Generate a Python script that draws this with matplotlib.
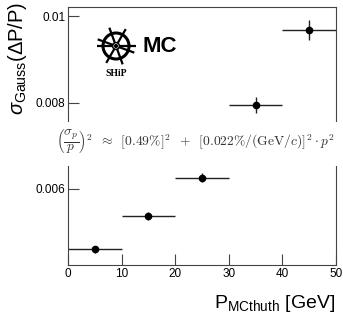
import numpy as np
import matplotlib
matplotlib.use("Agg")
import matplotlib.pyplot as plt
from matplotlib.patches import Circle, Rectangle

plt.rcParams["font.family"] = ["Liberation Sans", "DejaVu Sans"]
plt.rcParams["mathtext.fontset"] = "custom"
plt.rcParams["mathtext.rm"] = "Liberation Sans"
plt.rcParams["mathtext.it"] = "Liberation Sans:italic"
plt.rcParams["mathtext.sf"] = "Liberation Sans"

# data
p_centres = [5, 15, 25, 35, 45]
p_halfwidth = [5, 5, 5, 5, 5]
sigma_gauss = [0.00460, 0.00537, 0.00626, 0.00795, 0.00969]
sigma_err = [0.00008, 0.00009, 0.00010, 0.00019, 0.00023]
xticks = [0, 10, 20, 30, 40, 50]
yticks = [0.006, 0.008, 0.01]
ylabels = ["0.006", "0.008", "0.01"]

W, H = 343, 320
fig = plt.figure(figsize=(W / 100, H / 100), dpi=100)
ax = fig.add_axes([68 / W, 1 - 265 / H, (336 - 68) / W, (265 - 7) / H])

ax.errorbar(p_centres, sigma_gauss, xerr=p_halfwidth, yerr=sigma_err,
            fmt="o", color="black", ecolor="#222222", elinewidth=1.0,
            markersize=4.5, capsize=0)
ax.set_xlim(0, 50)
ax.set_ylim(0.004237, 0.01022)
ax.set_xticks(xticks)
ax.set_yticks(yticks)
ax.set_yticklabels(ylabels)
ax.tick_params(direction="in", length=8, width=0.8, labelsize=8.5,
               color="#444444", top=False, right=False, pad=2)
for s in ax.spines.values():
    s.set_color("#444444")
    s.set_linewidth(0.8)

# white band with the resolution formula
fig.patches.append(Rectangle((0, 1 - 166 / H), 1, 44 / H, transform=fig.transFigure,
                             facecolor="white", edgecolor="none", zorder=5))
fig.text(195 / W, 1 - 142 / H,
         r"$\left(\dfrac{\sigma_p}{p}\right)^2 \;\;\approx\;\; [0.49\%]^2 \;\;+\;\; "
         r"[0.022\%/(\mathrm{GeV}/c)]^2 \cdot p^2$",
         math_fontfamily="cm", fontsize=9.8, color="#333333",
         ha="center", va="center", zorder=6)

# axis titles
fig.text(18 / W, 1 - 2 / H, r"$\sigma_{\mathrm{Gauss}}$(ΔP/P)", rotation=90,
         fontsize=14.5, ha="center", va="top")
fig.text(335 / W, 1 - 303 / H, r"P$_{\mathrm{MCthuth}}$ [GeV]",
         fontsize=14, ha="right", va="center")

# SHiP logo and MC tag
lax = fig.add_axes([(116 - 22) / W, 1 - (46 + 22) / H, 44 / W, 44 / H])
lax.set_xlim(-22, 22)
lax.set_ylim(-22, 22)
lax.set_aspect("equal")
lax.axis("off")
lax.add_patch(Circle((0, 0), 13, fill=False, lw=2.2, color="black"))
for ang in [0, 60, 110, 160]:
    a = np.deg2rad(ang)
    lax.plot([-19.5 * np.cos(a), 19.5 * np.cos(a)], [-19.5 * np.sin(a), 19.5 * np.sin(a)],
             color="black", lw=1.6, solid_capstyle="butt")
lax.add_patch(Circle((0, 0), 3.4, facecolor="white", edgecolor="black", lw=1.1, zorder=3))
lax.add_patch(Circle((0, 0), 1.4, facecolor="black", edgecolor="black", zorder=4))
fig.text(116 / W, 1 - 74 / H, "SHiP", family="Liberation Serif", fontweight="bold",
         fontsize=7, ha="center", va="center")
fig.text(143 / W, 1 - 46 / H, "MC", fontsize=16, fontweight="bold",
         ha="left", va="center")

fig.savefig("out.png", dpi=100)
